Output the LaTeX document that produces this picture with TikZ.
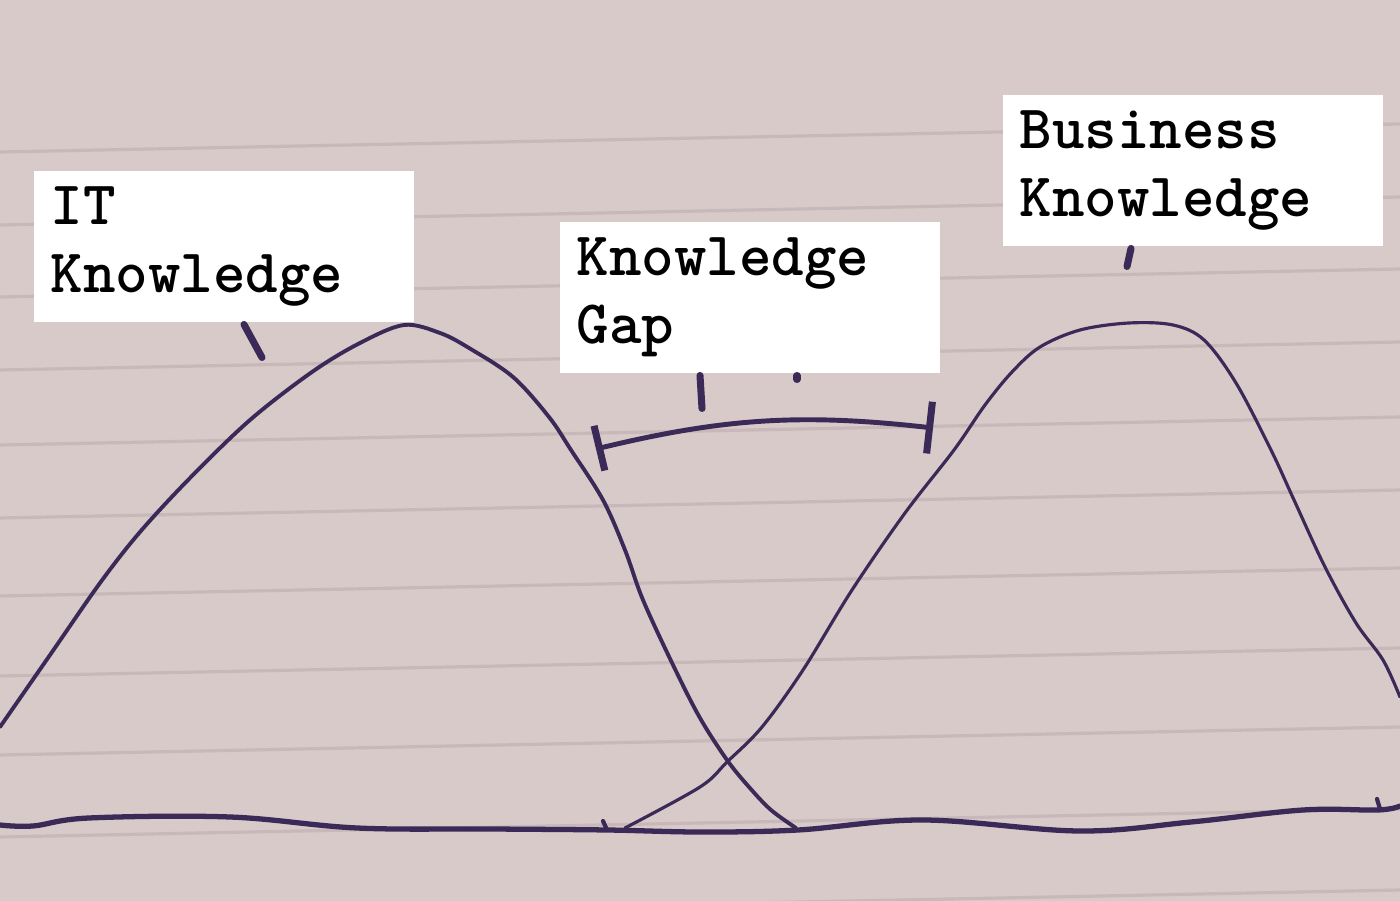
\documentclass[tikz,border=0pt]{standalone}
\usetikzlibrary{arrows.meta}

\definecolor{paper}{HTML}{D8CAC8}
\definecolor{rulecol}{HTML}{C8B8B9}
\definecolor{ink}{HTML}{3B2A58}

\tikzset{
  ruling/.style={draw=rulecol, line width=0.9pt},
  inkline/.style={draw=ink, line width=1.1pt, line cap=round, line join=round},
  labelbox/.style={fill=white, anchor=north west, minimum width=3.8cm,
    minimum height=1.51cm, text width=3.46cm, inner sep=0pt, align=left,
    font=\ttfamily\bfseries\fontsize{17.6}{19.4}\selectfont},
}

\begin{document}
\begin{tikzpicture}[x=0.01cm, y=-0.01cm]
  \useasboundingbox (0,0) rectangle (1400,901);
  \fill[paper] (0,0) rectangle (1400,901);
  \clip (0,0) rectangle (1400,901);

  %% ruled paper
  \foreach \ry in {152,225,297,370,445,518,596,676,755,837,918}
    \draw[ruling] (0,\ry) -- (1400,\ry-28);

  %% axis
  \draw[inkline, line width=1.5pt] plot[smooth, tension=0.6] coordinates {
    (0,825) (33,826) (89,818) (230,817) (357,828) (491,829) (607,830)
    (700,832) (798,830) (923,820) (1079,831) (1191,822) (1303,810)
    (1378,810) (1400,806)};

  %% IT curve
  \draw[inkline] plot[smooth, tension=0.55] coordinates {
    (0,727) (50,655) (100,583) (140,532) (190,478) (250,420) (312,372)
    (360,343) (404,325) (440,333) (469,348) (513,377) (549,417) (571,450)
    (603,500) (625,550) (643,600) (674,667) (700,718) (727,760) (749,787)
    (771,810) (796,828)};

  %% business curve
  \draw[inkline, line width=0.9pt] plot[smooth, tension=0.55] coordinates {
    (625,828) (700,787) (727,762) (762,727) (803,670) (852,590) (905,513)
    (954,450) (985,405) (1012,372) (1040,347) (1080,330) (1129,323)
    (1173,325) (1204,340) (1236,383) (1271,450) (1294,500) (1325,567)
    (1356,623) (1383,660) (1400,697)};

  %% labels
  \node[labelbox] (itbox) at (33,170) {IT\\Knowledge};
  \node[labelbox] (gapbox) at (559,221) {Knowledge\\Gap};
  \node[labelbox] (bizbox) at (1002,94) {Business\\Knowledge};

  %% gap span
  \coordinate (gapL) at (596,449);
  \coordinate (gapR) at (933,428);
  \draw[inkline, line width=1.4pt, {Bar[width=4.6mm, line width=2pt]}-{Bar[width=5.2mm, line width=2pt]}]
    (gapL) to[bend left=10] (gapR); %% L->R

  %% pencil ticks
  \draw[inkline, line width=2pt] (itbox.south west) ++(211,2) -- ++(18,33);
  \draw[inkline, line width=2pt] (gapbox.south west) ++(141,2) -- ++(2,33);
  \draw[inkline, line width=2pt] (gapbox.south west) ++(238,2) -- ++(0,4);
  \draw[inkline, line width=2pt] (bizbox.south west) ++(129,2) -- ++(-4,18);
  \draw[inkline, line width=1.2pt] (603,821) -- (607,830);
  \draw[inkline, line width=1.2pt] (1377,799) -- (1380,809);
\end{tikzpicture}
\end{document}
